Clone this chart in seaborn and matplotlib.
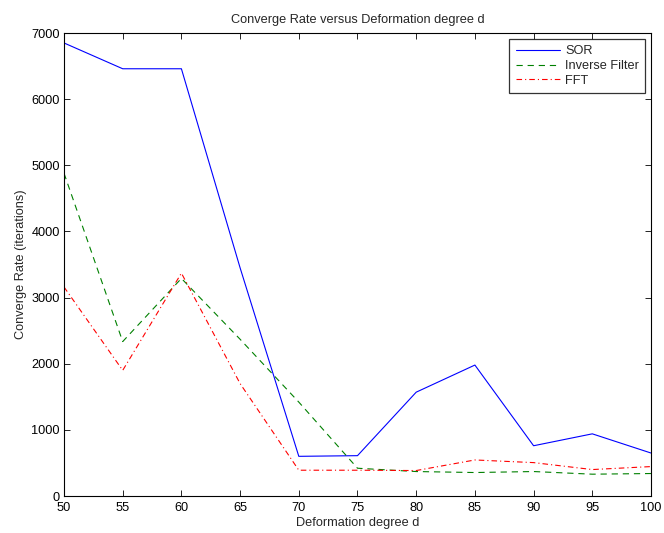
import matplotlib
matplotlib.use("Agg")
import matplotlib.pyplot as plt
import seaborn as sns
import pandas as pd

# Deformation degree values and iteration counts per solver
degree = [50, 55, 60, 65, 70, 75, 80, 85, 90, 95, 100]
sor = [6850, 6460, 6460, 3450, 600, 610, 1570, 1980, 760, 940, 650]
inverse_filter = [4880, 2335, 3290, 2370, 1420, 420, 370, 355, 370, 330, 340]
fft = [3160, 1900, 3370, 1700, 390, 390, 385, 545, 505, 400, 445]

series_names = ["SOR", "Inverse Filter", "FFT"]

sns.set_theme(style="white")
plt.rcParams["font.family"] = ["Liberation Sans", "DejaVu Sans"]
plt.rcParams["lines.scale_dashes"] = False

df = pd.DataFrame({
    "d": degree * 3,
    "rate": sor + inverse_filter + fft,
    "method": [series_names[0]] * len(degree)
              + [series_names[1]] * len(degree)
              + [series_names[2]] * len(degree),
})

fig = plt.figure(figsize=(6.64, 5.33), dpi=100)
ax = fig.add_axes([0.0964, 0.0694, 0.8840, 0.8686])

palette = {"SOR": (0, 0, 1), "Inverse Filter": (0, 0.5, 0), "FFT": (1, 0, 0)}
dashes = {"SOR": "", "Inverse Filter": (4.5, 3.5), "FFT": (4.0, 2.2, 0.8, 2.2)}

sns.lineplot(data=df, x="d", y="rate", hue="method", style="method",
             palette=palette, dashes=dashes, linewidth=0.8, ax=ax,
             legend=True)

fs = 9.2
ax.set_xlim(50, 100)
ax.set_ylim(0, 7000)
ax.set_xticks(range(50, 101, 5))
ax.set_yticks(range(0, 7001, 1000))
ax.tick_params(direction="in", length=4.3, width=0.6, labelsize=fs,
               top=True, right=True, bottom=True, left=True, colors="black")
ax.tick_params(axis="x", pad=4.6)
ax.tick_params(axis="y", pad=3.0)
for s in ax.spines.values():
    s.set_color("black")
    s.set_linewidth(0.8)

ax.set_title("Converge Rate versus Deformation degree d", fontsize=fs, pad=7)
ax.set_xlabel("Deformation degree d", fontsize=fs, labelpad=2)
ax.set_ylabel("Converge Rate (iterations)", fontsize=fs, labelpad=3)

leg = ax.legend(loc="upper right", fontsize=fs, frameon=True, fancybox=False,
                borderaxespad=0.45, handlelength=3.5, handletextpad=0.35,
                labelspacing=0.22, borderpad=0.5)
leg.get_frame().set_edgecolor("black")
leg.get_frame().set_linewidth(0.9)

fig.savefig("out.png", dpi=100, facecolor="white")
